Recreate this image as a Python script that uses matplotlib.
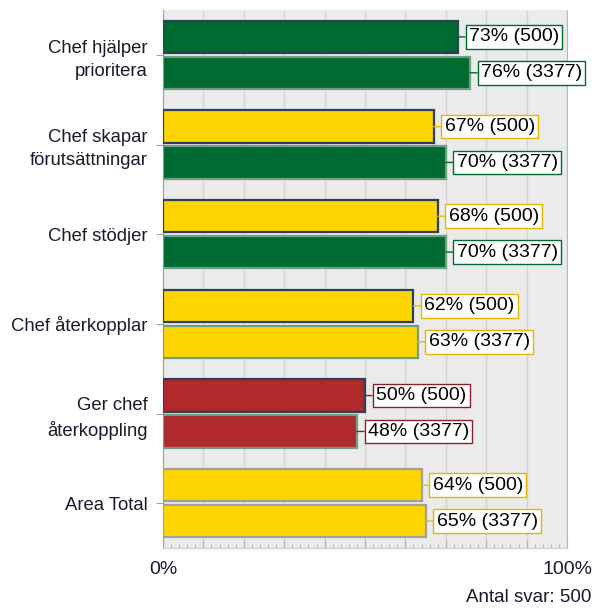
import matplotlib
matplotlib.use("Agg")
import matplotlib.pyplot as plt
from matplotlib.ticker import MultipleLocator

plt.rcParams['font.family'] = ['Liberation Sans', 'DejaVu Sans']

categories = ["Chef hjälper\nprioritera", "Chef skapar\nförutsättningar", "Chef stödjer",
              "Chef återkopplar", "Ger chef\nåterkoppling", "Area Total"]
values_500 = [73, 67, 68, 62, 50, 64]
values_3377 = [76, 70, 70, 63, 48, 65]
colors_500 = ["green", "yellow", "yellow", "yellow", "red", "yellow"]
colors_3377 = ["green", "green", "green", "yellow", "red", "yellow"]
n_labels = ["500", "3377"]
x_ticklabels = ["0%", "100%"]
footer = "Antal svar: 500"

fill = {"green": "#006B30", "yellow": "#FFD500", "red": "#B0292B"}
box_edge = {"green": "#006B30", "yellow": "#E0B800", "red": "#8E1F2A"}

fig = plt.figure(figsize=(6.0, 6.15), dpi=100)
ax = fig.add_axes([163/600, 1 - 548/615, (567-163)/600, (548-10)/615])
ax.set_facecolor("#EBEBEB")

h = 0.36
off = 0.2
for i, cat in enumerate(categories):
    total = (i == len(categories) - 1)
    for k, (vals, cols, edge) in enumerate([(values_500, colors_500, "#2E3F58"),
                                            (values_3377, colors_3377, "#6E9E86")]):
        y = i - off if k == 0 else i + off
        ec = "#A0A0A0" if total else edge
        c = cols[i]
        ax.barh(y, vals[i], height=h, color=fill[c], edgecolor=ec, linewidth=1.6, zorder=3)
        ax.annotate(f"{vals[i]}% ({n_labels[k]})", xy=(vals[i], y), xytext=(11, 0),
                    textcoords='offset pixels', ha='left', va='center', fontsize=14,
                    color='black', zorder=5,
                    bbox=dict(boxstyle='square,pad=0.17', fc='white', ec=box_edge[c], lw=1),
                    arrowprops=dict(arrowstyle='-', color=box_edge[c], lw=1,
                                    shrinkA=0, shrinkB=0))

ax.set_xlim(0, 100)
ax.set_ylim(len(categories) - 0.5, -0.5)
ax.set_yticks(range(len(categories)))
ax.set_yticklabels(categories, fontsize=13.3, color="#1A1A2A", linespacing=1.45)
ax.tick_params(axis='y', length=5, color="#A0A0A0", pad=6)

ax.xaxis.set_minor_locator(MultipleLocator(2))
ax.set_xticks(range(0, 101, 10), minor=False)
labels = [x_ticklabels[0]] + [""] * 9 + [x_ticklabels[1]]
ax.set_xticklabels(labels, fontsize=14, color="#1A1A2A")
ax.tick_params(axis='x', which='major', direction='in', length=6, color="#B0B0B0", pad=9)
ax.tick_params(axis='x', which='minor', direction='in', length=3, color="#B0B0B0")
ax.grid(axis='x', which='major', color="#D4D4D4", lw=1, zorder=0)

ax.spines['top'].set_visible(False)
ax.spines['right'].set_color("#B8B8B8")
ax.spines['left'].set_color("#A0A0A0")
ax.spines['bottom'].set_color("#D0D0D0")

fig.text(591/600, 1 - 597/615, footer, ha='right', va='center', fontsize=13.5, color="#1A1A2A")

fig.savefig("out.png", dpi=100)
